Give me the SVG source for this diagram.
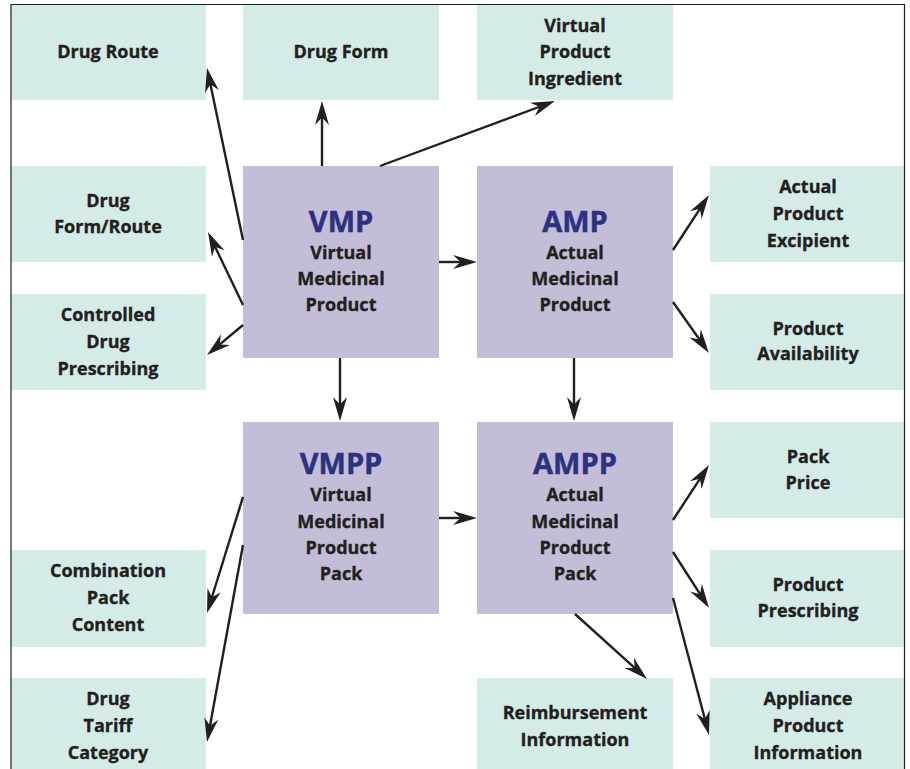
<svg xmlns="http://www.w3.org/2000/svg" width="910" height="769" viewBox="0 0 910 769">
  <style>
    .attr { fill: #d5ebe8; }
    .core { fill: #c3bdd7; }
    text { font-family: "Open Sans", "Liberation Sans", sans-serif; font-weight: 700; text-anchor: middle; fill: #231f20; stroke: #231f20; stroke-width: 0.35; }
    .lbl { font-size: 18px; }
    .ttl { font-size: 29px; fill: #2e3180; stroke: #2e3180; stroke-width: 0.5; }
    .conn { stroke: #231f20; stroke-width: 2.4; fill: none; marker-end: url(#head); }
  </style>
  <defs>
    <marker id="head" viewBox="-15 -8 27 16" markerWidth="27" markerHeight="16" refX="0" refY="0" markerUnits="userSpaceOnUse" orient="auto">
      <path d="M10,0 L-14,-7 L-6.5,0 L-14,7 Z" fill="#231f20"/>
    </marker>
  </defs>

  <rect width="910" height="769" fill="#ffffff"/>

  <!-- attribute boxes, left column -->
  <g id="drug-route">
    <rect class="attr" x="11" y="5" width="195" height="95"/>
    <text class="lbl" x="108" y="58">Drug Route</text>
  </g>
  <g id="drug-form-route">
    <rect class="attr" x="11" y="166" width="195" height="96"/>
    <text class="lbl" x="108" y="207">Drug</text>
    <text class="lbl" x="108" y="233">Form/Route</text>
  </g>
  <g id="controlled-drug-prescribing">
    <rect class="attr" x="11" y="294" width="195" height="96"/>
    <text class="lbl" x="108" y="321">Controlled</text>
    <text class="lbl" x="108" y="348">Drug</text>
    <text class="lbl" x="108" y="375">Prescribing</text>
  </g>
  <g id="combination-pack-content">
    <rect class="attr" x="11" y="550" width="195" height="97"/>
    <text class="lbl" x="108" y="577">Combination</text>
    <text class="lbl" x="108" y="604">Pack</text>
    <text class="lbl" x="108" y="631">Content</text>
  </g>
  <g id="drug-tariff-category">
    <rect class="attr" x="11" y="678" width="195" height="95"/>
    <text class="lbl" x="108" y="705">Drug</text>
    <text class="lbl" x="108" y="732">Tariff</text>
    <text class="lbl" x="108" y="759">Category</text>
  </g>

  <!-- attribute boxes, top row -->
  <g id="drug-form">
    <rect class="attr" x="243" y="5" width="196" height="95"/>
    <text class="lbl" x="341" y="58">Drug Form</text>
  </g>
  <g id="virtual-product-ingredient">
    <rect class="attr" x="477" y="5" width="196" height="95"/>
    <text class="lbl" x="575" y="32">Virtual</text>
    <text class="lbl" x="575" y="58">Product</text>
    <text class="lbl" x="575" y="85">Ingredient</text>
  </g>

  <!-- attribute boxes, right column -->
  <g id="actual-product-excipient">
    <rect class="attr" x="710" y="166" width="195" height="96"/>
    <text class="lbl" x="808" y="193">Actual</text>
    <text class="lbl" x="808" y="220">Product</text>
    <text class="lbl" x="808" y="247">Excipient</text>
  </g>
  <g id="product-availability">
    <rect class="attr" x="710" y="294" width="195" height="96"/>
    <text class="lbl" x="808" y="335">Product</text>
    <text class="lbl" x="808" y="360">Availability</text>
  </g>
  <g id="pack-price">
    <rect class="attr" x="710" y="422" width="195" height="96"/>
    <text class="lbl" x="808" y="463">Pack</text>
    <text class="lbl" x="808" y="489">Price</text>
  </g>
  <g id="product-prescribing">
    <rect class="attr" x="710" y="550" width="195" height="97"/>
    <text class="lbl" x="808" y="591">Product</text>
    <text class="lbl" x="808" y="617">Prescribing</text>
  </g>
  <g id="appliance-product-information">
    <rect class="attr" x="710" y="678" width="195" height="95"/>
    <text class="lbl" x="808" y="705">Appliance</text>
    <text class="lbl" x="808" y="732">Product</text>
    <text class="lbl" x="808" y="759">Information</text>
  </g>
  <g id="reimbursement-information">
    <rect class="attr" x="477" y="678" width="196" height="95"/>
    <text class="lbl" x="575" y="719">Reimbursement</text>
    <text class="lbl" x="575" y="746">Information</text>
  </g>

  <!-- core entities -->
  <g id="vmp">
    <rect class="core" x="243" y="166" width="196" height="192"/>
    <text class="ttl" x="341" y="232">VMP</text>
    <text class="lbl" x="341" y="259">Virtual</text>
    <text class="lbl" x="341" y="285">Medicinal</text>
    <text class="lbl" x="341" y="311">Product</text>
  </g>
  <g id="amp">
    <rect class="core" x="477" y="166" width="196" height="192"/>
    <text class="ttl" x="575" y="232">AMP</text>
    <text class="lbl" x="575" y="259">Actual</text>
    <text class="lbl" x="575" y="285">Medicinal</text>
    <text class="lbl" x="575" y="311">Product</text>
  </g>
  <g id="vmpp">
    <rect class="core" x="243" y="422" width="196" height="192"/>
    <text class="ttl" x="341" y="474">VMPP</text>
    <text class="lbl" x="341" y="501">Virtual</text>
    <text class="lbl" x="341" y="528">Medicinal</text>
    <text class="lbl" x="341" y="554">Product</text>
    <text class="lbl" x="341" y="580">Pack</text>
  </g>
  <g id="ampp">
    <rect class="core" x="477" y="422" width="196" height="192"/>
    <text class="ttl" x="575" y="474">AMPP</text>
    <text class="lbl" x="575" y="501">Actual</text>
    <text class="lbl" x="575" y="528">Medicinal</text>
    <text class="lbl" x="575" y="554">Product</text>
    <text class="lbl" x="575" y="580">Pack</text>
  </g>

  <!-- connectors: each path stops inside its arrowhead, the marker tip reaches the target -->
  <g id="connectors">
    <path class="conn" d="M243,240 L209.05,77.8"/>
    <path class="conn" d="M243,305 L212.3,241"/>
    <path class="conn" d="M243,325 L214.7,348.6"/>
    <path class="conn" d="M322,166 L322,111"/>
    <path class="conn" d="M380,166 L545.6,104.5"/>
    <path class="conn" d="M439,262 L467,262"/>
    <path class="conn" d="M340,358 L340,411"/>
    <path class="conn" d="M673,250 L703.5,203.4"/>
    <path class="conn" d="M673,302 L703.2,344.8"/>
    <path class="conn" d="M574,358 L574,411"/>
    <path class="conn" d="M439,518 L467,518"/>
    <path class="conn" d="M243,497 L210,603.5"/>
    <path class="conn" d="M243,545 L208.8,732.2"/>
    <path class="conn" d="M673,520 L703.5,473.4"/>
    <path class="conn" d="M673,552 L703.6,599.6"/>
    <path class="conn" d="M575,614 L639.6,672.3"/>
    <path class="conn" d="M673,598 L706.5,725.3"/>
  </g>

  <!-- outer frame, open at the bottom edge -->
  <path d="M11,775 L11,4.5 L904.5,4.5 L904.5,775" fill="none" stroke="#231f20" stroke-width="1.2"/>
</svg>
